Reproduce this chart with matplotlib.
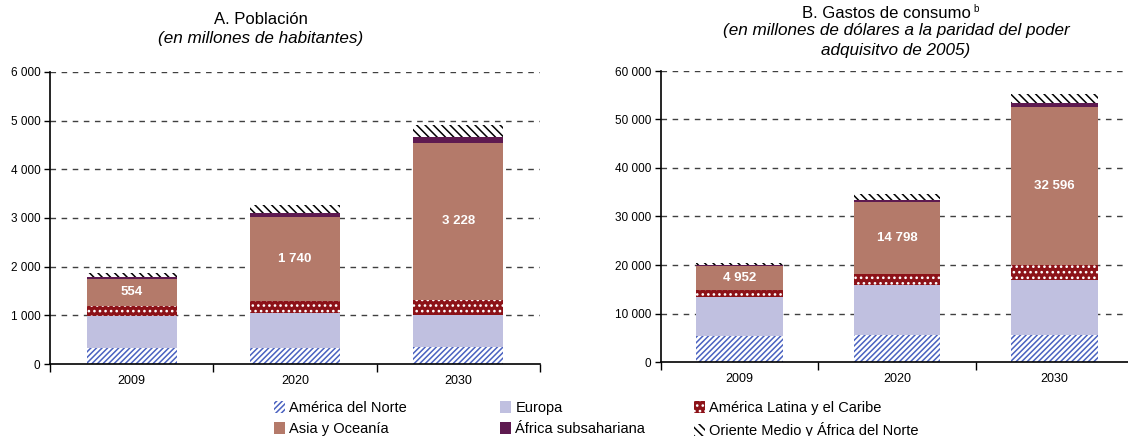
import numpy as np
import matplotlib
matplotlib.use("Agg")
import matplotlib.pyplot as plt
from matplotlib.patches import Patch

plt.rcParams['font.family'] = ['Liberation Sans', 'DejaVu Sans']
plt.rcParams['hatch.linewidth'] = 1.1

# ==========================================
# DATA
# ==========================================
years = ['2009', '2020', '2030']
regions = ['América del Norte', 'Europa', 'América Latina y el Caribe',
           'Asia y Oceanía', 'África subsahariana', 'Oriente Medio y África del Norte']

# A. Poblacion (millones de habitantes)
pob_norte = [330, 330, 340]
pob_europa = [660, 710, 660]
pob_latam = [210, 245, 323]
pob_asia = [554, 1740, 3228]
pob_africa = [30, 85, 110]
pob_oriente = [80, 160, 250]

# B. Gastos de consumo (millones de dolares PPA 2005)
gas_norte = [5400, 5500, 5500]
gas_europa = [8000, 10300, 11400]
gas_latam = [1400, 2400, 3100]
gas_asia = [4952, 14798, 32596]
gas_africa = [250, 400, 800]
gas_oriente = [450, 1300, 1800]

asia_labels_a = ['554', '1 740', '3 228']
asia_labels_b = ['4 952', '14 798', '32 596']

yticks_a = [0, 1000, 2000, 3000, 4000, 5000, 6000]
yticks_b = [0, 10000, 20000, 30000, 40000, 50000, 60000]

# ==========================================
# STYLES
# ==========================================
styles = [
    dict(facecolor='white', edgecolor='#4a62c0', hatch='//////'),
    dict(facecolor='#c0c0e0', edgecolor='#c0c0e0', hatch=None),
    dict(facecolor='#8c1218', edgecolor='white', hatch='...'),
    dict(facecolor='#b47a6a', edgecolor='#b47a6a', hatch=None),
    dict(facecolor='#5e1a50', edgecolor='#5e1a50', hatch=None),
    dict(facecolor='white', edgecolor='black', hatch='\\\\\\\\'),
]


def fmt(v):
    return f"{int(v):,}".replace(',', ' ')


def stacked(ax, series, labels, yticks):
    x = np.arange(len(years))
    bottom = np.zeros(len(years))
    for i, (vals, st) in enumerate(zip(series, styles)):
        vals = np.array(vals, dtype=float)
        ax.bar(x, vals, 0.55, bottom=bottom, facecolor=st['facecolor'],
               edgecolor=st['edgecolor'], hatch=st['hatch'], linewidth=0, zorder=2)
        if i == 3:
            for xi, b, v, lab in zip(x, bottom, vals, labels):
                ax.text(xi, b + v / 2, lab, ha='center', va='center', color='white',
                        fontsize=9.5, fontweight='bold', zorder=3)
        bottom += vals
    ax.set_xlim(-0.5, len(years) - 0.5)
    ax.set_ylim(yticks[0], yticks[-1])
    ax.set_yticks(yticks)
    ax.set_yticklabels([fmt(t) for t in yticks], fontsize=8.5)
    ax.set_xticks(x)
    ax.set_xticklabels(years, fontsize=9)
    ax.tick_params(axis='x', length=0, pad=8)
    ax.set_xticks(np.arange(len(years) + 1) - 0.5, minor=True)
    ax.tick_params(axis='x', which='minor', length=6, width=1, direction='out')
    ax.tick_params(axis='y', length=4, width=1, pad=3)
    for t in yticks[1:]:
        ax.axhline(t, color='#404040', linestyle=(0, (4, 4)), linewidth=1, zorder=1)
    for s in ['top', 'right']:
        ax.spines[s].set_visible(False)
    ax.spines['left'].set_linewidth(1.2)
    ax.spines['bottom'].set_linewidth(1.2)


W, H = 1128, 436
fig = plt.figure(figsize=(W / 100, H / 100), dpi=100)

ax1 = fig.add_axes([50 / W, (H - 364) / H, 490 / W, 292 / H])
stacked(ax1, [pob_norte, pob_europa, pob_latam, pob_asia, pob_africa, pob_oriente],
        asia_labels_a, yticks_a)

ax2 = fig.add_axes([661 / W, (H - 362) / H, 472 / W, 291 / H])
stacked(ax2, [gas_norte, gas_europa, gas_latam, gas_asia, gas_africa, gas_oriente],
        asia_labels_b, yticks_b)

# titles
fig.text(261 / W, 1 - 19 / H, 'A. Población', ha='center', va='center', fontsize=12)
fig.text(261 / W, 1 - 39 / H, '(en millones de habitantes)', ha='center', va='center',
         fontsize=12.3, style='italic')
fig.text(886 / W, 1 - 13 / H, 'B. Gastos de consumo', ha='center', va='center', fontsize=12)
fig.text(973 / W, 1 - 9 / H, 'b', ha='left', va='center', fontsize=7)
fig.text(896 / W, 1 - 31 / H, '(en millones de dólares a la paridad del poder',
         ha='center', va='center', fontsize=12.3, style='italic')
fig.text(896 / W, 1 - 51 / H, 'adquisitvo de 2005)', ha='center', va='center',
         fontsize=12.3, style='italic')

# legend: three columns placed separately
handles = [Patch(facecolor=st['facecolor'], edgecolor=st['edgecolor'], hatch=st['hatch'],
                 linewidth=0) for st in styles]
cols = [(274, [0, 3]), (500, [1, 4]), (694, [2, 5])]
for xpos, idx in cols:
    leg = fig.legend([handles[i] for i in idx], [regions[i] for i in idx],
                     loc='upper left', bbox_to_anchor=(xpos / W, 1 - 401 / H),
                     frameon=False, fontsize=10.5, handlelength=0.75, handleheight=0.9,
                     handletextpad=0.3, labelspacing=0.45, borderpad=0, borderaxespad=0)

fig.savefig('out.png', dpi=100)
